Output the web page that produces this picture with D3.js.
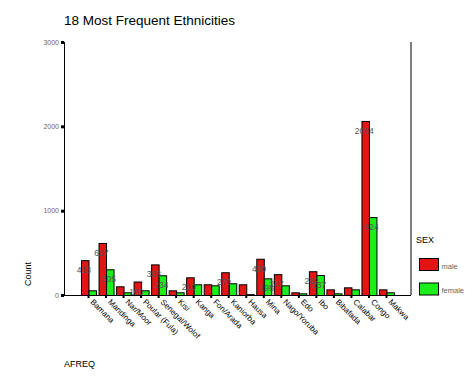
<!DOCTYPE html>
<html><head><meta charset="utf-8">
<script src="https://cdn.jsdelivr.net/npm/d3@7"></script>
<style>body{margin:0;background:#fff}</style>
</head><body>
<script>
const categories = ["Bamana","Mandinga","Nar/Moor","Poular (Fula)","Senegal/Wolof","Kisi","Kanga","Fon/Arada","Kaniorba","Hausa","Mina","Nago/Yoruba","Edo","Ibo","Bibafada","Calabar","Congo","Makwa"];
const maleValues   = [413,617,103,160,363,56,210,127,270,127,430,247,32,282,67,91,2064,67];
const femaleValues = [56,305,32,56,234,32,127,115,139,10,198,115,20,237,20,67,924,32];
const maleLabels   = [true,true,false,true,true,false,true,false,true,false,true,true,false,true,false,false,true,false];
const femaleLabels = [false,true,false,false,true,false,false,false,false,false,true,false,false,true,false,false,true,false];
const seriesNames = ["male","female"];
const yTicks = [0,1000,2000,3000];
const colors = ["#e21414","#1cee1c"];

const W=474,H=379;
const svg=d3.select("body").append("svg").attr("width",W).attr("height",H)
  .style("font-family","'Liberation Sans',Arial,sans-serif");

const x=d3.scaleBand().domain(categories).range([64,411]).paddingInner(0.144).paddingOuter(0.97);
const xs=d3.scaleBand().domain(seriesNames).range([0,x.bandwidth()]);
const y=d3.scaleLinear().domain([0,3000]).range([295,42]);

svg.append("text").attr("x",64).attr("y",25).attr("font-size",13.5).attr("fill","#000").text("18 Most Frequent Ethnicities");

svg.append("line").attr("x1",411).attr("x2",411).attr("y1",42).attr("y2",295).attr("stroke","#000");

const data=categories.map((c,i)=>({c,vals:[{s:"male",v:maleValues[i],l:maleLabels[i]},{s:"female",v:femaleValues[i],l:femaleLabels[i]}]}));
const g=svg.append("g");
const grp=g.selectAll("g").data(data).join("g").attr("transform",d=>`translate(${x(d.c)},0)`);
grp.selectAll("rect").data(d=>d.vals).join("rect")
  .attr("x",d=>xs(d.s)+0.5).attr("width",xs.bandwidth())
  .attr("y",d=>y(d.v)+0.5).attr("height",d=>y(0)-y(d.v))
  .attr("fill",(d,i)=>colors[i]).attr("stroke","#000").attr("stroke-width",1);
grp.selectAll("text").data(d=>d.vals.filter(v=>v.l)).join("text")
  .attr("x",d=>xs(d.s)+xs.bandwidth()/2-1).attr("y",d=>y(d.v)+13)
  .attr("text-anchor","middle").attr("font-size",8.5).attr("fill","#555").text(d=>d.v);

const ya=d3.axisLeft(y).tickValues(yTicks).tickSize(3).tickPadding(2).tickFormat(d3.format("d"));
const yg=svg.append("g").attr("transform","translate(64,0)").call(ya);
yg.select(".domain").attr("stroke","#000").attr("d","M0.5,42V295.5");
yg.selectAll(".tick line").attr("stroke","#000").attr("stroke-width",3);
yg.selectAll(".tick text").attr("font-size",7).attr("fill","#666").attr("font-family","'Liberation Sans',Arial,sans-serif");

const xa=d3.axisBottom(x).tickSize(3).tickPadding(4);
const xg=svg.append("g").attr("transform","translate(0,295)").call(xa);
xg.select(".domain").attr("stroke","#000").attr("d","M64,0.5H411");
xg.selectAll(".tick line").attr("stroke","#000").attr("stroke-width",2);
xg.selectAll(".tick text").attr("font-size",8).attr("fill","#000")
  .attr("font-family","'Liberation Sans',Arial,sans-serif")
  .attr("text-anchor","start").attr("dy","0.35em")
  .attr("transform","translate(2,4) rotate(45)").attr("y",0).attr("x",2);

svg.append("text").attr("transform","translate(31,286) rotate(-90)").attr("font-size",9).attr("fill","#000").text("Count");
svg.append("text").attr("x",64).attr("y",367).attr("font-size",9).attr("fill","#000").text("AFREQ");

svg.append("text").attr("x",416).attr("y",243).attr("font-size",9).attr("fill","#000").text("SEX");
const lg=svg.append("g").selectAll("g").data(seriesNames).join("g")
  .attr("transform",(d,i)=>`translate(419.5,${258.5+i*24.5})`);
lg.append("rect").attr("width",19).attr("height",12).attr("fill",(d,i)=>colors[i]).attr("stroke","#000");
lg.append("text").attr("x",22).attr("y",10).attr("font-size",7.5).attr("fill","#666").text(d=>d);
</script>
</body></html>
